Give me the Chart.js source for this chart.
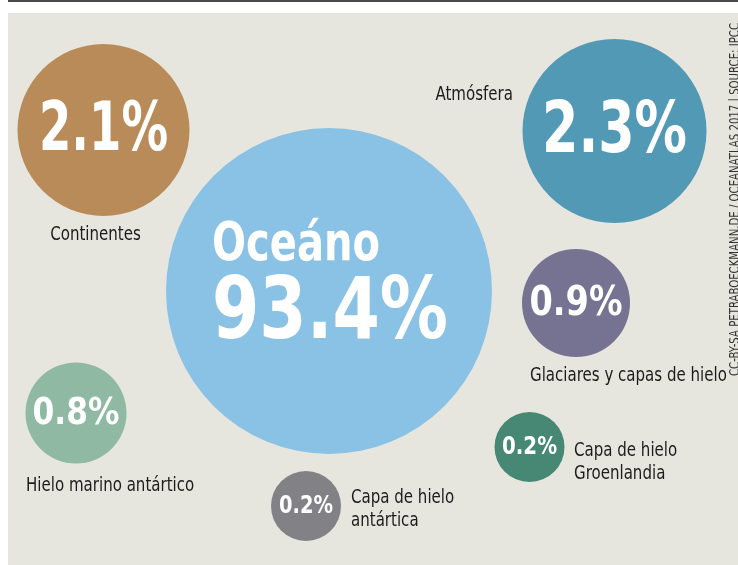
<!DOCTYPE html>
<html>
<head>
<meta charset="utf-8">
<script src="https://cdn.jsdelivr.net/npm/chart.js@4"></script>
<style>
  html, body { margin: 0; padding: 0; background: #fff; }
  #wrap { width: 738px; height: 565px; }
</style>
</head>
<body>
<div id="wrap"><canvas id="waterChart" width="738" height="565"></canvas></div>
<script>
// where the water goes (share of extra heat stored, %)
const categories = ['Oceáno', 'Continentes', 'Atmósfera', 'Glaciares y capas de hielo',
  'Hielo marino antártico', 'Capa de hielo antártica', 'Capa de hielo Groenlandia'];
const shares = [93.4, 2.1, 2.3, 0.9, 0.8, 0.2, 0.2];
const sourceNote = 'CC-BY-SA PETRABOECKMANN.DE / OCEANATLAS 2017 | SOURCE: IPCC';

// layout: bubble centres in plot units, radius in px
const posX = [329, 103.5, 614.5, 576, 76, 306, 529.5];
const posY = [291, 130, 131, 303, 413, 506, 447];
const radius = [163, 86, 92, 54, 50.5, 35, 35];
const colors = ['#8ac2e5', '#b88b58', '#5299b5', '#757391', '#8fb9a3', '#828286', '#468873'];

// value text inside bubbles: font size and squeezed width
const valueSize = [85, 68, 72, 40, 38, 24, 24];
const valueWidth = [236, 129, 145, 93, 87, 54, 55];
const labelLines = [null, ['Continentes'], ['Atmósfera'], ['Glaciares y capas de hielo'],
  ['Hielo marino antártico'], ['Capa de hielo', 'antártica'], ['Capa de hielo', 'Groenlandia']];
// [dx, dy, align] from bubble centre to first label baseline
const labelPos = [null, [-8, 110, 'center'], [-101.5, -31, 'right'], [-46, 78, 'left'],
  [-50, 78, 'left'], [45, -3, 'left'], [44.5, 9, 'left']];

const narrow = '"Liberation Sans Narrow", "DejaVu Sans Condensed", "Arial Narrow", sans-serif';

const points = shares.map((v, i) => ({ x: posX[i], y: posY[i], r: radius[i] }));

const panelPlugin = {
  id: 'panel',
  beforeDraw(chart) {
    const c = chart.ctx;
    c.save();
    c.fillStyle = '#ffffff';
    c.fillRect(0, 0, chart.width, chart.height);
    c.fillStyle = '#4a4a4a';
    c.fillRect(8, 0, chart.width - 8, 2);
    c.fillStyle = '#e6e6de';
    c.fillRect(8, 13, chart.width - 8, chart.height - 13);
    c.restore();
  }
};

// draw text squeezed horizontally by a factor
function squeezed(c, text, x, y, factor) {
  c.fillText(text, x, y, c.measureText(text).width * factor);
}

const textPlugin = {
  id: 'bubbleText',
  afterDatasetsDraw(chart) {
    const c = chart.ctx;
    const meta = chart.getDatasetMeta(0);
    c.save();
    c.textBaseline = 'alphabetic';
    meta.data.forEach((el, i) => {
      const val = shares[i].toFixed(1) + '%';
      const size = valueSize[i];
      c.fillStyle = '#ffffff';
      if (i === 0) {
        // ocean: name above value, left aligned block
        c.textAlign = 'left';
        c.font = 'bold 53px ' + narrow;
        c.fillText(categories[0], el.x - 117, el.y - 31, 168);
        c.font = 'bold ' + size + 'px ' + narrow;
        c.fillText(val, el.x - 117, el.y + 47, valueWidth[0]);
        return;
      }
      c.textAlign = 'center';
      c.font = 'bold ' + size + 'px ' + narrow;
      c.fillText(val, el.x, el.y + size * 0.29, valueWidth[i]);

      const lp = labelPos[i];
      c.fillStyle = '#1c1c1c';
      c.font = '19px ' + narrow;
      c.textAlign = lp[2];
      labelLines[i].forEach((line, k) => {
        squeezed(c, line, el.x + lp[0], el.y + lp[1] + k * 23, 0.88);
      });
    });

    // vertical source credit on the right edge
    c.translate(739, 376);
    c.rotate(-Math.PI / 2);
    c.fillStyle = '#333333';
    c.font = '14px ' + narrow;
    c.textAlign = 'left';
    c.fillText(sourceNote, 0, 0, 353);
    c.restore();
  }
};

new Chart(document.getElementById('waterChart'), {
  type: 'bubble',
  data: {
    labels: categories,
    datasets: [{
      data: points,
      backgroundColor: colors,
      hoverBackgroundColor: colors,
      borderWidth: 0,
      hoverBorderWidth: 0,
      clip: false
    }]
  },
  options: {
    responsive: false,
    animation: false,
    events: [],
    layout: { padding: 0, autoPadding: false },
    plugins: {
      legend: { display: false },
      tooltip: { enabled: false }
    },
    scales: {
      x: { type: 'linear', min: 0, max: 738, display: false },
      y: { type: 'linear', min: 0, max: 565, reverse: true, display: false }
    }
  },
  plugins: [panelPlugin, textPlugin]
});
</script>
</body>
</html>
